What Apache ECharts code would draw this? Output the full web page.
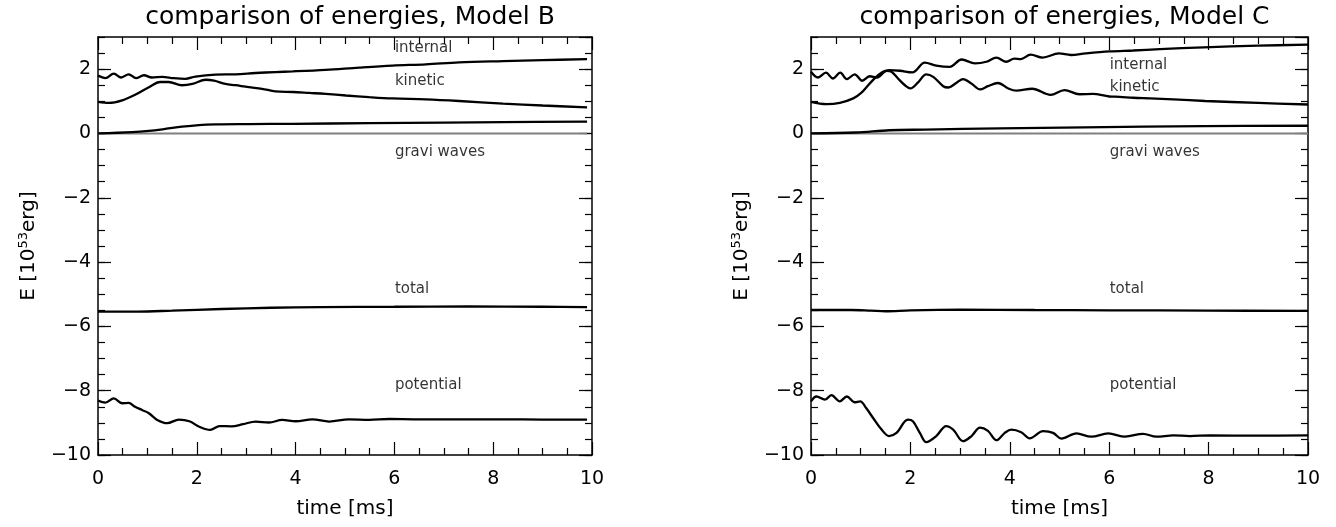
<!DOCTYPE html>
<html><head><meta charset="utf-8">
<script src="https://cdn.jsdelivr.net/npm/echarts@6/dist/echarts.min.js"></script>
<style>html,body{margin:0;padding:0;background:#fff}#c{width:1336px;height:527px}</style>
</head><body><div id="c"></div>
<script>
// ---------- data (time [ms], energy [10^53 erg]) ----------
const titles = ['comparison of energies, Model B', 'comparison of energies, Model C'];

const B_internal = [[0,1.80],[0.15,1.72],[0.32,1.86],[0.47,1.74],[0.62,1.84],[0.77,1.72],[0.93,1.81],[1.09,1.74],[1.30,1.76],[1.53,1.72],[1.77,1.70],[1.97,1.77],[2.38,1.83],[2.78,1.84],[3.19,1.88],[3.59,1.91],[3.94,1.93],[4.61,1.98],[5.29,2.05],[5.96,2.11],[6.64,2.15],[7.31,2.21],[8.2,2.25],[9.0,2.28],[9.9,2.31]];
const B_kinetic = [[0,0.98],[0.22,0.95],[0.49,1.03],[0.76,1.21],[1.03,1.44],[1.26,1.60],[1.43,1.60],[1.70,1.50],[1.91,1.54],[2.18,1.67],[2.35,1.64],[2.58,1.54],[2.78,1.50],[3.05,1.44],[3.32,1.39],[3.59,1.31],[3.94,1.29],[4.28,1.26],[4.61,1.23],[5.02,1.18],[5.49,1.13],[5.96,1.09],[6.64,1.06],[7.31,1.01],[8.2,0.93],[9.0,0.87],[9.9,0.81]];
const B_rising = [[0,0],[0.69,0.04],[1.03,0.08],[1.36,0.14],[1.70,0.21],[2.04,0.26],[2.38,0.28],[3.05,0.29],[3.93,0.30],[5.5,0.32],[7,0.34],[8.2,0.35],[9.9,0.37]];
const B_gravi = [[0,0],[9.9,0]];
const B_total = [[0,-5.54],[0.8,-5.54],[1.5,-5.51],[2.5,-5.46],[3.5,-5.42],[4.5,-5.40],[6,-5.39],[7.5,-5.38],[9,-5.39],[9.9,-5.40]];
const B_potential = [[0,-8.31],[0.15,-8.37],[0.32,-8.24],[0.49,-8.39],[0.62,-8.38],[0.75,-8.50],[0.89,-8.60],[1.03,-8.70],[1.20,-8.91],[1.40,-9.01],[1.64,-8.90],[1.85,-8.95],[2.05,-9.12],[2.27,-9.22],[2.46,-9.10],[2.70,-9.11],[2.94,-9.04],[3.19,-8.96],[3.46,-8.99],[3.73,-8.91],[4.0,-8.95],[4.34,-8.89],[4.68,-8.96],[5.08,-8.89],[5.49,-8.91],[5.89,-8.88],[6.43,-8.89],[7.1,-8.89],[8.2,-8.89],[9.0,-8.90],[9.9,-8.90]];

const C_internal = [[0,1.92],[0.14,1.74],[0.30,1.89],[0.44,1.71],[0.59,1.89],[0.72,1.69],[0.88,1.84],[1.03,1.64],[1.18,1.78],[1.33,1.74],[1.48,1.92],[1.58,1.97],[1.79,1.95],[2.04,1.90],[2.29,2.20],[2.52,2.11],[2.79,2.07],[3.03,2.30],[3.30,2.18],[3.53,2.23],[3.73,2.36],[3.93,2.23],[4.09,2.33],[4.22,2.31],[4.42,2.45],[4.66,2.36],[4.99,2.49],[5.23,2.44],[5.53,2.49],[6.01,2.55],[6.48,2.58],[7.02,2.62],[7.9,2.68],[9.0,2.73],[10,2.76]];
const C_kinetic = [[0,0.98],[0.31,0.91],[0.58,0.95],[0.85,1.09],[1.01,1.26],[1.18,1.55],[1.35,1.81],[1.52,1.95],[1.62,1.92],[1.75,1.71],[1.89,1.50],[2.0,1.40],[2.15,1.58],[2.32,1.84],[2.46,1.76],[2.66,1.47],[2.76,1.43],[2.93,1.58],[3.06,1.69],[3.23,1.55],[3.40,1.37],[3.56,1.47],[3.76,1.57],[3.97,1.40],[4.13,1.33],[4.45,1.39],[4.82,1.20],[5.10,1.35],[5.40,1.22],[5.67,1.23],[6.0,1.15],[6.21,1.14],[6.48,1.11],[6.82,1.09],[7.29,1.06],[7.93,1.01],[9,0.95],[10,0.90]];
const C_rising = [[0,0],[0.9,0.03],[1.58,0.10],[2.3,0.12],[3.8,0.16],[5.5,0.19],[7.9,0.23],[10,0.24]];
const C_gravi = [[0,0],[10,0]];
const C_total = [[0,-5.49],[0.8,-5.49],[1.2,-5.51],[1.5,-5.53],[2.0,-5.50],[3.0,-5.48],[4.5,-5.49],[6,-5.50],[8,-5.51],[10,-5.52]];
const C_potential = [[0,-8.33],[0.11,-8.18],[0.28,-8.28],[0.41,-8.14],[0.58,-8.33],[0.72,-8.18],[0.88,-8.36],[0.99,-8.33],[1.11,-8.54],[1.25,-8.85],[1.42,-9.21],[1.57,-9.41],[1.72,-9.31],[1.95,-8.90],[2.05,-8.95],[2.19,-9.31],[2.32,-9.60],[2.52,-9.41],[2.72,-9.10],[2.86,-9.21],[3.06,-9.57],[3.23,-9.41],[3.40,-9.15],[3.56,-9.25],[3.73,-9.54],[3.90,-9.31],[4.03,-9.21],[4.23,-9.29],[4.40,-9.48],[4.67,-9.26],[4.87,-9.31],[5.04,-9.49],[5.34,-9.33],[5.64,-9.43],[5.98,-9.33],[6.32,-9.43],[6.68,-9.34],[6.95,-9.43],[7.29,-9.39],[7.62,-9.41],[8.03,-9.39],[9.0,-9.40],[10,-9.39]];

// annotation anchors [time, energy, text]
const B_labels = [[6,2.64,'internal'],[6,1.62,'kinetic'],[6,-0.58,'gravi waves'],[6,-4.85,'total'],[6,-7.84,'potential']];
const C_labels = [[6,2.14,'internal'],[6,1.44,'kinetic'],[6,-0.58,'gravi waves'],[6,-4.85,'total'],[6,-7.84,'potential']];

const xMin = 0, xMax = 10, xStep = 2;
const yMin = -10, yMax = 3, yStep = 2, yMinorStep = 0.5;

// ---------- chart ----------
const FONT = 'DejaVu Sans';
const grids = [
  {left: 98, right: 744, top: 37, bottom: 72},
  {left: 811, right: 28, top: 37, bottom: 72}
];
const axLine = {onZero: false, lineStyle: {color: '#000', width: 1.5}};
const tickStyle = {color: '#000', width: 1.2};
const minus = v => String(v).replace('-', '\u2212');

const xAxis = [], yAxis = [], series = [], title = [];
grids.forEach((g, gi) => {
  title.push({text: titles[gi], left: g.left + (1336 - g.left - g.right) / 2, textAlign: 'center', top: 0,
    textStyle: {fontFamily: FONT, fontSize: 25, fontWeight: 'normal', color: '#000'}});
  ['bottom', 'top'].forEach(pos => {
    xAxis.push({gridIndex: gi, type: 'value', min: xMin, max: xMax, interval: xStep, position: pos,
      axisLine: axLine, splitLine: {show: false},
      axisTick: {inside: true, length: 13, lineStyle: tickStyle},
      minorTick: {show: true, splitNumber: 4, length: 7, lineStyle: tickStyle},
      axisLabel: {show: pos === 'bottom', margin: 15, fontFamily: FONT, fontSize: 19, color: '#000'},
      name: pos === 'bottom' ? 'time [ms]' : '', nameLocation: 'middle', nameGap: 44,
      nameTextStyle: {fontFamily: FONT, fontSize: 20, color: '#000'}});
  });
  ['left', 'right'].forEach(pos => {
    yAxis.push({gridIndex: gi, type: 'value', min: yMin, max: yMax, interval: yStep, position: pos,
      axisLine: axLine, splitLine: {show: false},
      axisTick: {inside: true, length: 13, lineStyle: tickStyle},
      axisLabel: {show: pos === 'left', showMaxLabel: false, margin: 7, fontFamily: FONT, fontSize: 19, color: '#000',
        formatter: v => v === yMax ? '' : minus(v)},
      name: pos === 'left' ? 'E [10{s|53}erg]' : '', nameLocation: 'middle', nameRotate: 90, nameGap: 58,
      nameTextStyle: {fontFamily: FONT, fontSize: 20, color: '#000',
        rich: {s: {fontFamily: FONT, fontSize: 13, color: '#000', verticalAlign: 'top', padding: [0, 0, 10, 0]}}}});
    yAxis.push({gridIndex: gi, type: 'value', min: yMin, max: yMax, interval: yMinorStep, position: pos,
      axisLine: {show: false, onZero: false}, splitLine: {show: false},
      axisTick: {inside: true, length: 7, lineStyle: tickStyle},
      axisLabel: {show: false}});
  });
});

function line(gi, data, color, width) {
  series.push({type: 'line', xAxisIndex: gi * 2, yAxisIndex: gi * 4, data: data, showSymbol: false,
    smooth: 0.35, silent: true, lineStyle: {color: color || '#000', width: width || 2.3}, z: color ? 2 : 3});
}
function labels(gi, data) {
  series.push({type: 'scatter', xAxisIndex: gi * 2, yAxisIndex: gi * 4, data: data, symbolSize: 1, silent: true,
    itemStyle: {color: 'rgba(0,0,0,0)'},
    label: {show: true, position: 'right', distance: 0, formatter: p => p.value[2],
      fontFamily: FONT, fontSize: 15, color: '#000'}});
}
line(0, B_gravi, '#808080', 2);
line(0, B_internal); line(0, B_kinetic); line(0, B_rising); line(0, B_total); line(0, B_potential);
labels(0, B_labels);
line(1, C_gravi, '#808080', 2);
line(1, C_internal); line(1, C_kinetic); line(1, C_rising); line(1, C_total); line(1, C_potential);
labels(1, C_labels);

const chart = echarts.init(document.getElementById('c'), null, {renderer: 'canvas'});
chart.setOption({backgroundColor: '#fff', animation: false, title, grid: grids, xAxis, yAxis, series});
</script></body></html>
